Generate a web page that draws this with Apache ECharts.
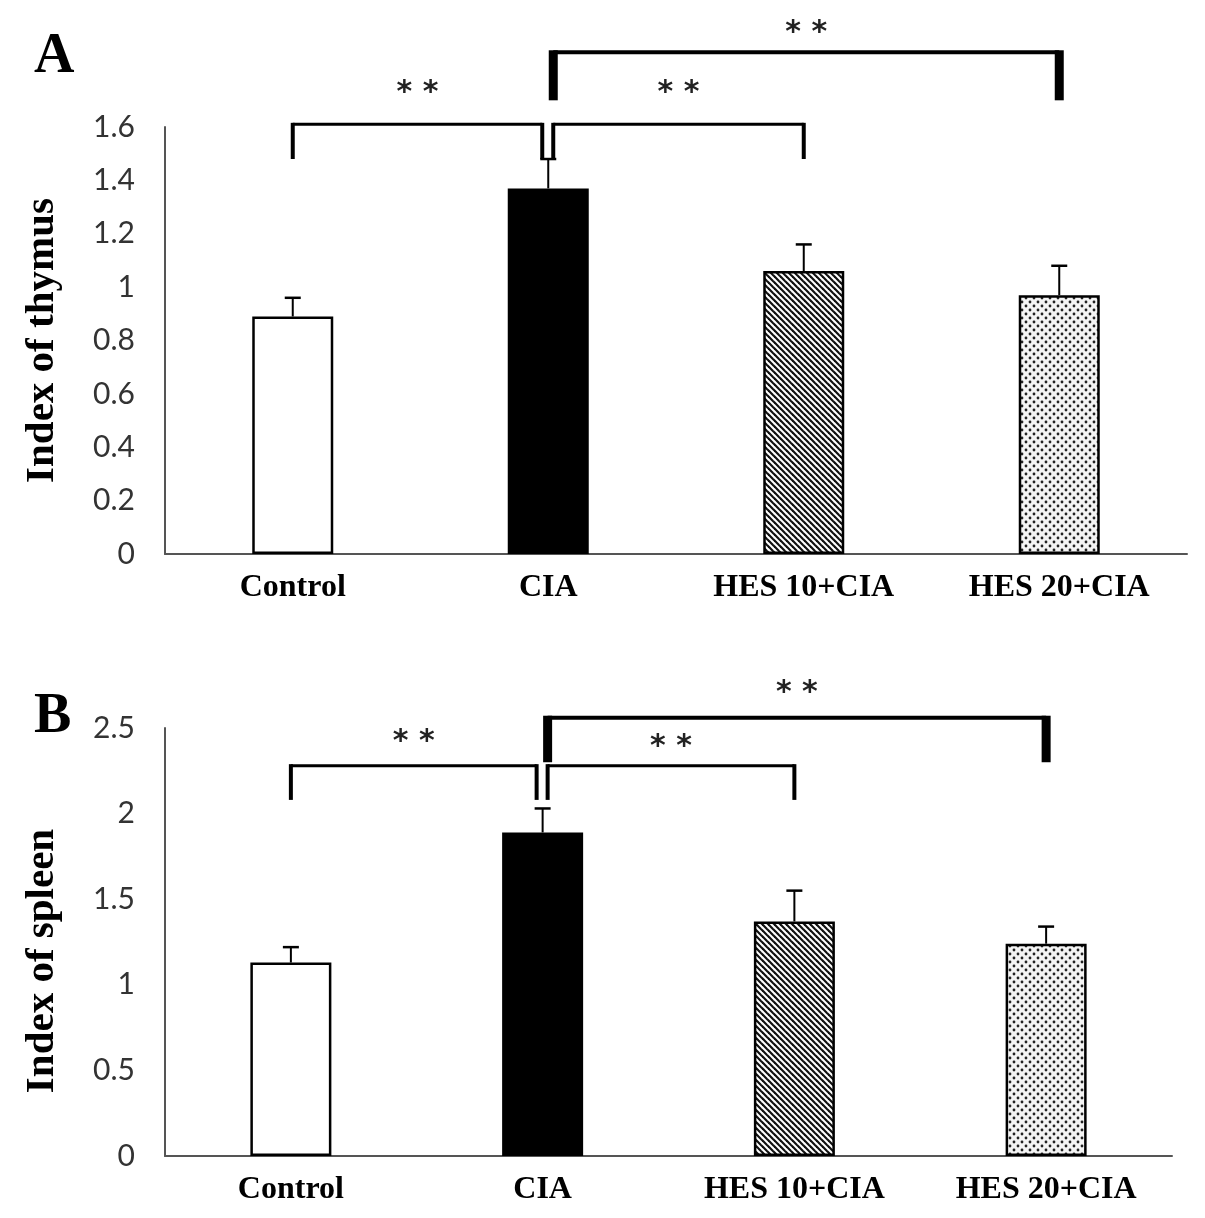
<!DOCTYPE html>
<html>
<head>
<meta charset="UTF-8">
<title>Index of thymus / spleen</title>
<script src="https://cdn.jsdelivr.net/npm/echarts@6/dist/echarts.min.js"></script>
<style>
body{margin:0;background:#fff;}
#chart{width:1205px;height:1218px;}
</style>
</head>
<body>
<div id="chart"></div>
<script type="text/javascript">
// groups and values
var categories = ['Control', 'CIA', 'HES 10+CIA', 'HES 20+CIA'];
var thymusMean = [0.89, 1.37, 1.06, 0.97];
var thymusErr = [0.07, 0.11, 0.10, 0.11];
var spleenMean = [1.13, 1.89, 1.37, 1.24];
var spleenErr = [0.09, 0.14, 0.18, 0.10];
var thymusTicks = [0, 0.2, 0.4, 0.6, 0.8, 1, 1.2, 1.4, 1.6];
var spleenTicks = [0, 0.5, 1, 1.5, 2, 2.5];
// significance brackets: [from group, to group, bar level, leg end level, star level]
var thymusSig = [[0, 1, 1.61, 1.48, 1.75], [1, 2, 1.61, 1.48, 1.75], [1, 3, 1.88, 1.70, 1.975]];
var spleenSig = [[0, 1, 2.28, 2.08, 2.45], [1, 2, 2.28, 2.08, 2.42], [1, 3, 2.56, 2.30, 2.74]];
var sigLabel = '**';

// fill patterns
function stripes(){
	var s = 6, c = document.createElement('canvas');
	c.width = s; c.height = s;
	var ctx = c.getContext('2d');
	ctx.fillStyle = '#fff'; ctx.fillRect(0, 0, s, s);
	ctx.strokeStyle = '#111'; ctx.lineWidth = 2.2;
	for (var k = -1; k <= 1; k++) {
		ctx.beginPath(); ctx.moveTo(k * s - 1, -1); ctx.lineTo(k * s + s + 1, s + 1); ctx.stroke();
	}
	return {image: c, repeat: 'repeat'};
}
function dots(){
	var s = 8, c = document.createElement('canvas');
	c.width = s; c.height = s;
	var ctx = c.getContext('2d');
	ctx.fillStyle = '#f4f4f4'; ctx.fillRect(0, 0, s, s);
	ctx.fillStyle = '#222';
	[[2, 2], [6, 6]].forEach(function(p){
		ctx.beginPath(); ctx.arc(p[0], p[1], 1.4, 0, Math.PI * 2); ctx.fill();
	});
	return {image: c, repeat: 'repeat'};
}
var fills = ['#ffffff', '#000000', stripes(), dots()];

function barData(vals){
	return vals.map(function(v, i){
		return {value: v, itemStyle: {color: fills[i], borderColor: '#000', borderWidth: 2.5}};
	});
}

function errData(mean, err){
	return mean.map(function(m, i){ return [i, m, err[i]]; });
}

function renderErr(params, api){
	var i = api.value(0), m = api.value(1), e = api.value(2);
	var base = api.coord([i, m]), top = api.coord([i, m + e]);
	return {type: 'group', children: [
		{type: 'line', shape: {x1: base[0], y1: base[1], x2: top[0], y2: top[1]}, style: {stroke: '#000', lineWidth: 2}},
		{type: 'line', shape: {x1: top[0] - 8, y1: top[1], x2: top[0] + 8, y2: top[1]}, style: {stroke: '#000', lineWidth: 2.5}}
	]};
}

function bracketRender(list){
	return function(params, api){
		var a = api.value(0), b = api.value(1), top = api.value(2), leg = api.value(3), star = api.value(4);
		var starts = list.map(function(r){ return r[0]; });
		var ends = list.map(function(r){ return r[1]; });
		var x0 = api.coord([a, top])[0] + (ends.indexOf(a) >= 0 ? 5 : 0);
		var x1 = api.coord([b, top])[0] - (starts.indexOf(b) >= 0 ? 6 : 0);
		var y = api.coord([a, top])[1];
		var yl = api.coord([a, leg])[1];
		var ys = api.coord([a, star])[1];
		var thick = (b - a) > 1;
		var lw = thick ? 4 : 3, legW = thick ? 9 : 4;
		return {type: 'group', children: [
			{type: 'line', shape: {x1: x0, y1: y, x2: x1, y2: y}, style: {stroke: '#000', lineWidth: lw}},
			{type: 'line', shape: {x1: x0, y1: y - lw / 2, x2: x0, y2: yl}, style: {stroke: '#000', lineWidth: legW}},
			{type: 'line', shape: {x1: x1, y1: y - lw / 2, x2: x1, y2: yl}, style: {stroke: '#000', lineWidth: legW}},
			{type: 'text', x: (x0 + x1) / 2, y: ys + 6, style: {text: sigLabel.split('').join(' '), fill: '#222', font: 'bold 30px "DejaVu Sans"', align: 'center', verticalAlign: 'middle'}}
		]};
	};
}

var mychart = echarts.init(document.getElementById('chart'));

var xAxisBase = {
	type: 'category',
	data: categories,
	axisLine: {lineStyle: {color: '#555', width: 2}},
	axisTick: {show: false},
	axisLabel: {color: '#000', fontFamily: 'Liberation Serif', fontWeight: 'bold', fontSize: 32, margin: 18}
};
function yAxisBase(ticks, name, pad){
	return {
		type: 'value',
		min: ticks[0], max: ticks[ticks.length - 1], interval: ticks[1] - ticks[0],
		name: name, nameLocation: 'middle', nameRotate: 90, nameGap: 102,
		nameTextStyle: {color: '#000', fontFamily: 'Liberation Serif', fontWeight: 'bold', fontSize: 41, padding: pad},
		axisLine: {show: true, lineStyle: {color: '#555', width: 2}},
		axisTick: {show: false},
		splitLine: {show: false},
		axisLabel: {color: '#333', fontFamily: 'Lato', fontSize: 30, margin: 30}
	};
}

var option = {
	animation: false,
	backgroundColor: '#fff',
	grid: [
		{left: 165, top: 127, width: 1022, height: 427},
		{left: 165, top: 728, width: 1007, height: 428}
	],
	xAxis: [
		Object.assign({gridIndex: 0}, xAxisBase),
		Object.assign({gridIndex: 1}, xAxisBase)
	],
	yAxis: [
		Object.assign({gridIndex: 0}, yAxisBase(thymusTicks, 'Index of thymus', [0, 0, 0, 0])),
		Object.assign({gridIndex: 1}, yAxisBase(spleenTicks, 'Index of spleen', [0, 38, 0, 0]))
	],
	graphic: [
		{type: 'text', left: 34, top: 30, style: {text: 'A', font: 'bold 56px "Liberation Serif"', fill: '#000'}},
		{type: 'text', left: 34, top: 690, style: {text: 'B', font: 'bold 56px "Liberation Serif"', fill: '#000'}}
	],
	series: [
		{type: 'bar', xAxisIndex: 0, yAxisIndex: 0, barWidth: 81, data: barData(thymusMean)},
		{type: 'bar', xAxisIndex: 1, yAxisIndex: 1, barWidth: 81, data: barData(spleenMean)},
		{type: 'custom', xAxisIndex: 0, yAxisIndex: 0, z: 5, renderItem: renderErr, encode: {x: 0, y: 1}, data: errData(thymusMean, thymusErr)},
		{type: 'custom', xAxisIndex: 1, yAxisIndex: 1, z: 5, renderItem: renderErr, encode: {x: 0, y: 1}, data: errData(spleenMean, spleenErr)},
		{type: 'custom', xAxisIndex: 0, yAxisIndex: 0, z: 6, clip: false, renderItem: bracketRender(thymusSig), encode: {x: 0, y: 2}, data: thymusSig},
		{type: 'custom', xAxisIndex: 1, yAxisIndex: 1, z: 6, clip: false, renderItem: bracketRender(spleenSig), encode: {x: 0, y: 2}, data: spleenSig}
	]
};
mychart.setOption(option);
</script>
</body>
</html>
